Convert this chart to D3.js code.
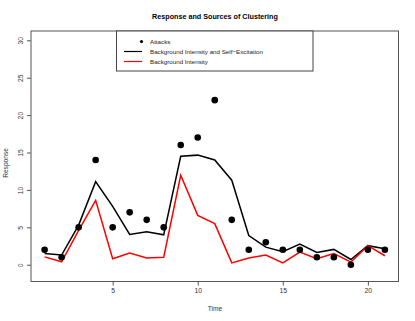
<!DOCTYPE html>
<html><head><meta charset="utf-8">
<script src="https://cdn.jsdelivr.net/npm/d3@7"></script>
<style>body{margin:0;background:#fff}svg{display:block}text{font-family:"Liberation Sans",Arial,sans-serif}</style>
</head><body>
<script>
const time = d3.range(1, 22);
const attacks = [2,1,5,14,5,7,6,5,16,17,22,6,2,3,2,2,1,1,0,2,2];
const selfExc = [1.5,1.3,5.3,11.1,7.8,4.05,4.4,4.0,14.5,14.65,14.0,11.3,3.9,2.35,1.75,2.75,1.65,2.05,0.7,2.55,2.15];
const background = [1.05,0.4,4.6,8.6,0.8,1.55,0.9,1.0,11.95,6.6,5.5,0.25,0.9,1.3,0.25,1.7,0.8,1.5,0.35,2.55,1.2];
const xTicks = [5,10,15,20];
const yTicks = [0,5,10,15,20,25,30];
const legendLabels = ["Attacks","Background Intensity and Self\u2212Excitation","Background Intensity"];

const W = 415, H = 321;
const L = 31, R = 398.5, T = 31, B = 281.5;
const FONT = '"Liberation Sans",Arial,sans-serif';
const svg = d3.select("body").append("svg").attr("width", W).attr("height", H);
const x = d3.scaleLinear().domain([0.2, 21.8]).range([L, R]);
const y = d3.scaleLinear().domain([-2.24, 31.24]).range([B, T]);

function fit(sel, target) {
  const w = sel.node().getComputedTextLength();
  const fs = parseFloat(sel.attr("font-size"));
  sel.attr("font-size", (fs * target / w).toFixed(2));
}

// box
svg.append("rect").attr("x", L).attr("y", T).attr("width", R - L).attr("height", B - T)
  .attr("fill", "none").attr("stroke", "#555").attr("stroke-width", 1);

// axes
const xAxis = svg.append("g").attr("transform", `translate(0,${B})`)
  .call(d3.axisBottom(x).tickValues(xTicks).tickSize(4).tickPadding(3).tickFormat(d3.format("d")));
xAxis.select(".domain").remove();
xAxis.selectAll("line").attr("stroke", "#555");
xAxis.selectAll("text").attr("font-size", 6.8).attr("fill", "#333").attr("font-family", FONT);

const yAxis = svg.append("g").attr("transform", `translate(${L},0)`)
  .call(d3.axisLeft(y).tickValues(yTicks).tickSize(4).tickFormat(d3.format("d")));
yAxis.select(".domain").remove();
yAxis.selectAll("line").attr("stroke", "#555");
yAxis.selectAll("text").attr("font-size", 6.8).attr("fill", "#333")
  .attr("font-family", FONT)
  .attr("text-anchor", "middle").attr("x", 0).attr("dy", 0)
  .attr("transform", "translate(-8.5,0) rotate(-90)");

// lines
const line = (arr) => d3.line().x((d, i) => x(time[i])).y(d => y(d))(arr);
svg.append("path").attr("d", line(selfExc)).attr("fill", "none").attr("stroke", "#000").attr("stroke-width", 1.5);
svg.append("path").attr("d", line(background)).attr("fill", "none").attr("stroke", "#f00").attr("stroke-width", 1.5);

// points
svg.append("g").selectAll("circle").data(attacks).join("circle")
  .attr("cx", (d, i) => x(time[i])).attr("cy", d => y(d)).attr("r", 3.3).attr("fill", "#000");

// title & labels
const title = svg.append("text").attr("x", 215).attr("y", 19).attr("text-anchor", "middle")
  .attr("font-size", 8).attr("font-weight", "bold").text("Response and Sources of Clustering");
fit(title, 126);
svg.append("text").attr("x", 215).attr("y", 311).attr("text-anchor", "middle")
  .attr("font-size", 6.6).attr("fill", "#333").text("Time");
svg.append("text").attr("transform", "translate(8,163) rotate(-90)").attr("text-anchor", "middle")
  .attr("font-size", 6.6).attr("fill", "#333").text("Response");

// legend
const lg = svg.append("g");
lg.append("rect").attr("x", 116.5).attr("y", T).attr("width", 196.5).attr("height", 40)
  .attr("fill", "#fff").attr("stroke", "#444").attr("stroke-width", 1);
const rowsY = [41.5, 51.5, 61.5];
lg.append("circle").attr("cx", 141.5).attr("cy", rowsY[0]).attr("r", 1.6).attr("fill", "#000");
lg.append("line").attr("x1", 124).attr("x2", 142).attr("y1", rowsY[1]).attr("y2", rowsY[1]).attr("stroke", "#000").attr("stroke-width", 1.2);
lg.append("line").attr("x1", 124).attr("x2", 142).attr("y1", rowsY[2]).attr("y2", rowsY[2]).attr("stroke", "#f00").attr("stroke-width", 1.2);
const labs = lg.selectAll("text.lab").data(legendLabels).join("text").attr("class", "lab")
  .attr("x", 150).attr("y", (d, i) => rowsY[i] + 2.3).attr("font-size", 6.6).attr("fill", "#222").text(d => d);
const longest = labs.filter((d, i) => i === 1);
fit(longest, 113);
labs.attr("font-size", longest.attr("font-size"));
</script>
</body></html>
